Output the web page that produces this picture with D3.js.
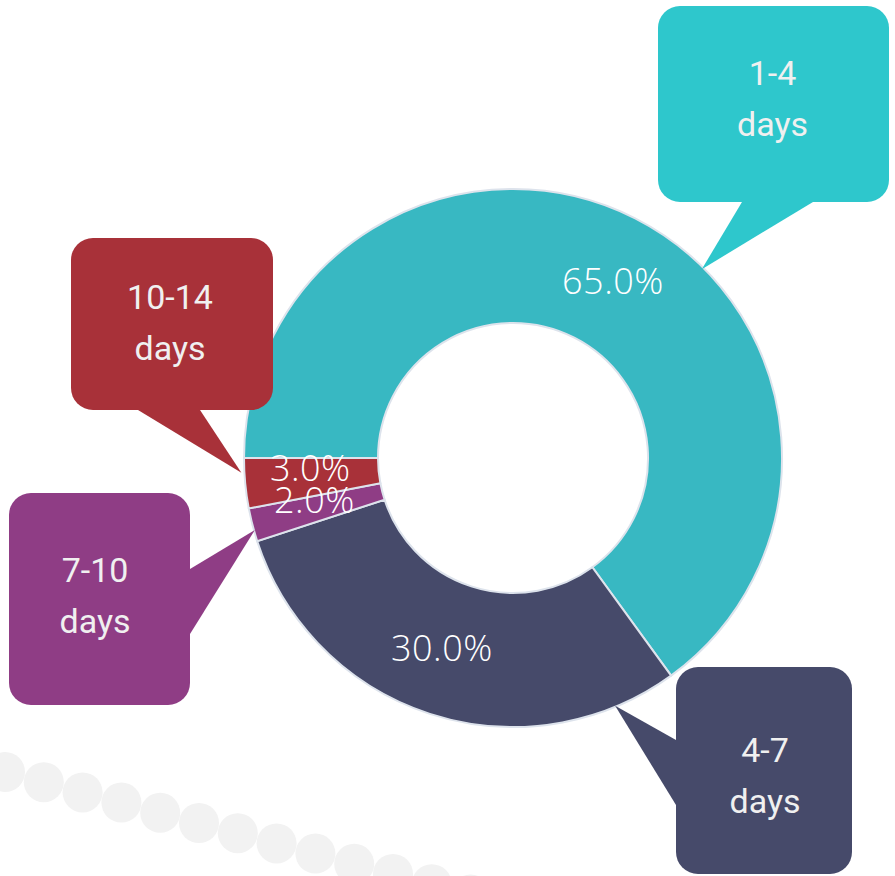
<!DOCTYPE html>
<html>
<head>
<meta charset="utf-8">
<script src="https://cdn.jsdelivr.net/npm/d3@7"></script>
<style>
  html, body { margin: 0; padding: 0; background: #fff; }
  svg { display: block; }
</style>
</head>
<body>
<svg id="chart"></svg>
<script>
// data
var categories = ["1-4 days", "4-7 days", "7-10 days", "10-14 days"];
var shares = [65, 30, 2, 3];
var sliceColors = ["#38b8c2", "#464a6a", "#8f3d85", "#a83139"];
var boxColors = ["#2ec7cc", "#464a6a", "#8f3d85", "#a83139"];

var width = 895, height = 876;
var cx = 513, cy = 458, outerR = 269, innerR = 135;
var labelR = 203, labelShift = 2.5; // degrees

// callout boxes: box rect, pointer base points, tip angle (deg, clockwise from 12 o'clock), text offsets
var callouts = [
  {box: [658, 6, 231, 196], base: [[742, 202], [813, 202]], tipAngle: 45, tipR: 267, tdx: -1, tdy: -19},
  {box: [676, 667, 176, 207], base: [[676, 740], [676, 805]], tipAngle: 157.6, tipR: 268, tdx: 1, tdy: -9},
  {box: [9, 493, 181, 212], base: [[190, 569], [190, 634]], tipAngle: 254.4, tipR: 268, tdx: -4.5, tdy: -17},
  {box: [71, 238, 202, 172], base: [[138, 410], [200, 410]], tipAngle: 266.9, tipR: 272, tdx: -2, tdy: -15}
];

var svg = d3.select("#chart")
    .attr("width", width)
    .attr("height", height);

// decorative dotted band bottom left
var dots = d3.range(13).map(function(i) { return [5 + i * 38.8, 772 + i * 10.2]; });
svg.append("g")
  .selectAll("circle")
  .data(dots)
  .enter()
  .append("circle")
    .attr("cx", function(d) { return d[0]; })
    .attr("cy", function(d) { return d[1]; })
    .attr("r", 20)
    .style("fill", "#f2f2f2");

var pie = d3.pie()
    .sort(null)
    .value(function(d) { return d; })
    .startAngle(-Math.PI / 2)
    .endAngle(3 * Math.PI / 2);

var arc = d3.arc().innerRadius(innerR).outerRadius(outerR);

var g = svg.append("g").attr("transform", "translate(" + cx + "," + cy + ")");
var arcs = pie(shares);

g.selectAll("path")
  .data(arcs)
  .enter()
  .append("path")
    .attr("d", arc)
    .style("fill", function(d, i) { return sliceColors[i]; })
    .style("stroke", "#dde3ec")
    .style("stroke-width", 2);

// percentage labels
var fmt = d3.format(".1f");
g.selectAll("text.pct")
  .data(arcs)
  .enter()
  .append("text")
    .attr("class", "pct")
    .attr("transform", function(d) {
      var a = (d.startAngle + d.endAngle) / 2 + labelShift * Math.PI / 180;
      return "translate(" + (labelR * Math.sin(a)) + "," + (-labelR * Math.cos(a)) + ")";
    })
    .attr("text-anchor", "middle")
    .attr("dy", "0.36em")
    .style("font-family", "'Open Sans', sans-serif")
    .style("font-weight", 300)
    .style("font-size", "36px")
    .style("letter-spacing", "0.5px")
    .style("fill", "#fff")
    .text(function(d) { return fmt(d.data) + "%"; });

// callouts
var co = svg.append("g");
callouts.forEach(function(c, i) {
  var a = c.tipAngle * Math.PI / 180;
  var tip = [cx + c.tipR * Math.sin(a), cy - c.tipR * Math.cos(a)];
  co.append("rect")
    .attr("x", c.box[0]).attr("y", c.box[1])
    .attr("width", c.box[2]).attr("height", c.box[3])
    .attr("rx", 22).attr("ry", 22)
    .style("fill", boxColors[i]);
  co.append("path")
    .attr("d", d3.line()([c.base[0], tip, c.base[1]]) + "Z")
    .style("fill", boxColors[i]);
  var parts = categories[i].split(" ");
  var mx = c.box[0] + c.box[2] / 2 + c.tdx, my = c.box[1] + c.box[3] / 2 + c.tdy;
  var t = co.append("text")
    .attr("text-anchor", "middle")
    .style("font-family", "Roboto, sans-serif")
    .style("font-size", "34px")
    .style("fill", "#f0f0f0");
  parts.forEach(function(p, j) {
    t.append("tspan")
      .attr("x", mx)
      .attr("y", my + j * 51)
      .text(p);
  });
});
</script>
</body>
</html>
